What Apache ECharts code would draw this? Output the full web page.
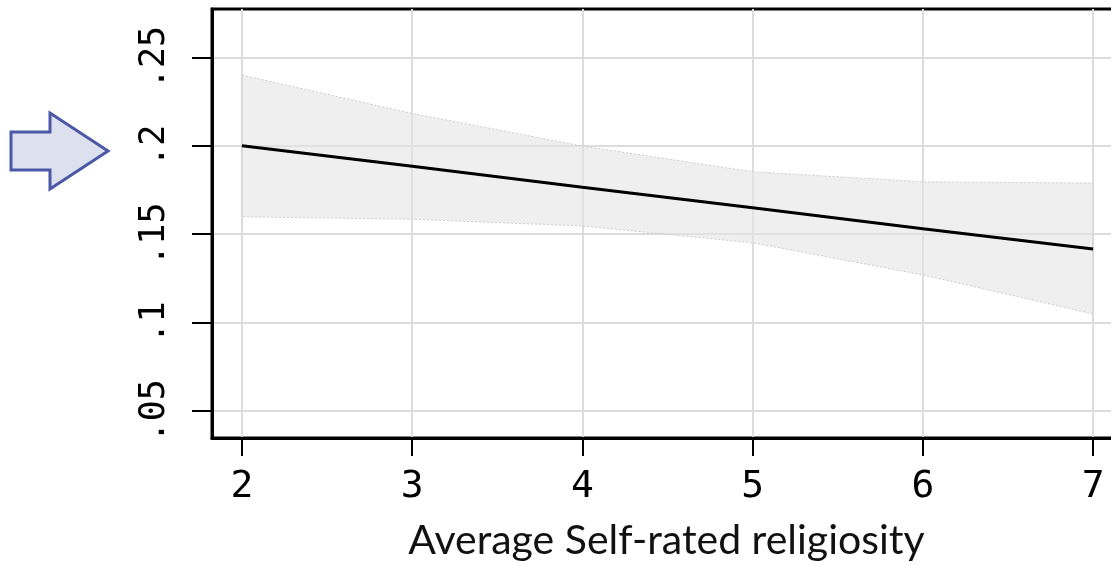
<!DOCTYPE html>
<html>
<head>
    <meta charset="utf-8">
    <title>Predicted margins</title>
    <script src="https://cdn.jsdelivr.net/npm/echarts@6/dist/echarts.min.js"></script>
    <style>
        html, body { margin: 0; padding: 0; background: #fff; }
        #main { width: 1111px; height: 566px; }
    </style>
</head>
<body>
    <div id="main"></div>
    <script type="text/javascript">
    // data
    var xVals = [2, 3, 4, 5, 6, 7];
    var fitted = [0.200, 0.1884, 0.1765, 0.1649, 0.1530, 0.1416];
    var upper = [0.240, 0.2183, 0.1998, 0.1853, 0.1796, 0.1789];
    var lower = [0.1598, 0.1584, 0.1546, 0.1451, 0.1269, 0.1048];
    var xTicks = [2, 3, 4, 5, 6, 7];
    var yTicks = [0.05, 0.1, 0.15, 0.2, 0.25];
    var yTickLabels = ['.05', '.1', '.15', '.2', '.25'];
    var xTitle = 'Average Self-rated religiosity';

    var lineData = [], bandData = [];
    for (var i = 0; i < xVals.length; i++) {
        lineData.push([xVals[i], fitted[i]]);
        bandData.push([xVals[i], lower[i], upper[i]]);
    }

    // confidence band: one polygon, upper edge then lower edge back
    function renderBand(params, api) {
        if (params.dataIndex !== 0) return;
        var pts = [];
        for (var i = 0; i < xVals.length; i++) pts.push(api.coord([xVals[i], upper[i]]));
        for (var j = xVals.length - 1; j >= 0; j--) pts.push(api.coord([xVals[j], lower[j]]));
        return {
            type: 'polygon',
            shape: { points: pts },
            style: { fill: 'rgba(228,228,228,0.6)', stroke: '#cdcdcd', lineWidth: 1, lineDash: [2, 2] }
        };
    }

    var myChart = echarts.init(document.getElementById('main'));

    var option = {
        backgroundColor: '#fff',
        animation: false,
        grid: {
            left: 212,
            top: 9,
            right: -10,
            bottom: 128,
            outerBoundsMode: 'none',
            containLabel: false,
            show: true,
            borderColor: '#000',
            borderWidth: 3,
            backgroundColor: 'transparent'
        },
        xAxis: {
            type: 'value',
            min: 1.824,
            max: 7.164,
            name: xTitle,
            nameLocation: 'middle',
            nameGap: 82,
            nameTextStyle: { fontFamily: 'Lato', fontSize: 41, color: '#111' },
            axisLine: { show: true, lineStyle: { color: '#000', width: 3 } },
            axisTick: { show: true, length: 18, customValues: xTicks, lineStyle: { color: '#000', width: 2 } },
            axisLabel: {
                customValues: xTicks,
                margin: 30,
                fontFamily: 'DejaVu Sans Mono',
                fontSize: 38,
                color: '#000'
            },
            splitLine: { show: true, lineStyle: { color: '#dcdcdc', width: 2 } }
        },
        yAxis: {
            type: 'value',
            min: 0.0346,
            max: 0.2774,
            axisLine: { show: true, lineStyle: { color: '#000', width: 3 } },
            axisTick: { show: true, length: 20, customValues: yTicks, lineStyle: { color: '#000', width: 2 } },
            axisLabel: {
                customValues: yTicks,
                rotate: 90,
                margin: 40,
                fontFamily: 'DejaVu Sans Mono',
                fontSize: 35,
                color: '#000',
                formatter: function (val) {
                    var k = yTicks.indexOf(val);
                    return k >= 0 ? yTickLabels[k] : '';
                }
            },
            splitLine: { show: true, lineStyle: { color: '#dcdcdc', width: 2 } }
        },
        graphic: [{
            type: 'polygon',
            shape: { points: [[11, 132], [50, 132], [50, 113], [108, 151], [50, 189], [50, 170], [11, 170]] },
            style: { fill: '#dde1ef', stroke: '#4b58a6', lineWidth: 3 }
        }],
        series: [{
            name: 'CI',
            type: 'custom',
            renderItem: renderBand,
            data: bandData,
            encode: { x: 0, y: [1, 2] },
            z: 2
        }, {
            name: 'fit',
            type: 'line',
            data: lineData,
            symbol: 'none',
            lineStyle: { color: '#000', width: 3 },
            z: 5
        }]
    };

    myChart.setOption(option);
    </script>
</body>
</html>
